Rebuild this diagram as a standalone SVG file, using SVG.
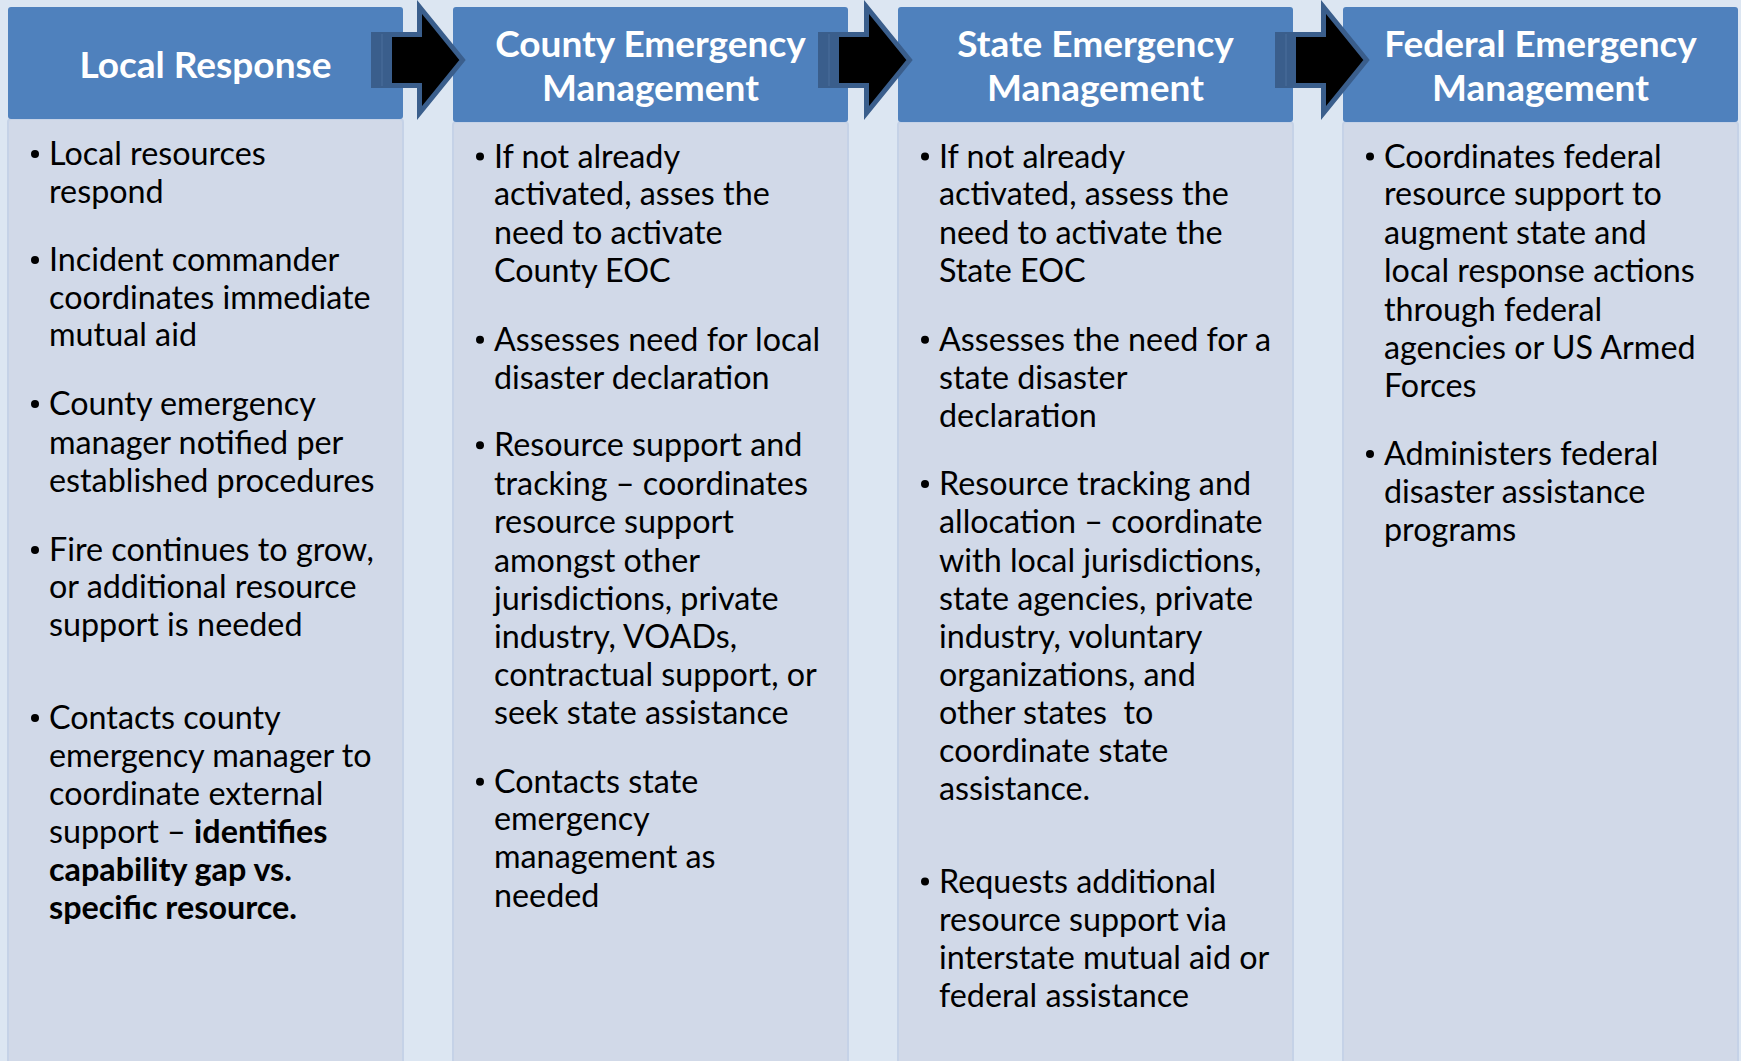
<svg xmlns="http://www.w3.org/2000/svg" xmlns:xlink="http://www.w3.org/1999/xlink" width="1741" height="1061" viewBox="0 0 1741 1061">
  <style>
    .bg { fill: #dce6f2; }
    .head { fill: #4f81bd; }
    .body { fill: #d1d9e8; stroke: #c5d2e7; stroke-width: 2; }
    .htxt { font-family: Lato, "Liberation Sans", sans-serif; font-weight: bold; font-size: 37px; fill: #ffffff; text-anchor: middle; }
    .btxt { font-family: Lato, "Liberation Sans", sans-serif; font-size: 32.3px; fill: #000000; }
    .b { font-weight: bold; }
    .dot { fill: #000000; }
  </style>
  <defs>
    <!-- process arrow: dark tail block plus black block arrow with blue outline -->
    <g id="arrow">
      <rect x="0" y="32" width="21" height="56" fill="#3a5e8c"/>
      <line x1="11" y1="34" x2="11" y2="86" stroke="#4a6e9c" stroke-width="1"/>
      <polygon points="18.5,34.5 48.5,34.5 48.5,7 91.5,60 48.5,113 48.5,85.5 18.5,85.5" fill="#000000" stroke="#3a5e8c" stroke-width="5" stroke-linejoin="miter"/>
    </g>
  </defs>

  <rect class="bg" x="0" y="0" width="1741" height="1061"/>

  <!-- Column 1 -->
  <g id="local-response">
    <rect class="body" x="8" y="119" width="395" height="960" rx="3"/>
    <rect class="head" x="8" y="7" width="395" height="112" rx="3"/>
    <text class="htxt" x="205.5" y="78">Local Response</text>
    <g class="btxt">
      <circle class="dot" cx="35" cy="154" r="4"/>
      <text x="49" y="165">Local resources</text>
      <text x="49" y="203">respond</text>
      <circle class="dot" cx="35" cy="260" r="4"/>
      <text x="49" y="271">Incident commander</text>
      <text x="49" y="309">coordinates immediate</text>
      <text x="49" y="346">mutual aid</text>
      <circle class="dot" cx="35" cy="404" r="4"/>
      <text x="49" y="415">County emergency</text>
      <text x="49" y="454">manager notified per</text>
      <text x="49" y="492">established procedures</text>
      <circle class="dot" cx="35" cy="550" r="4"/>
      <text x="49" y="561">Fire continues to grow,</text>
      <text x="49" y="598">or additional resource</text>
      <text x="49" y="636">support is needed</text>
      <circle class="dot" cx="35" cy="718" r="4"/>
      <text x="49" y="729">Contacts county</text>
      <text x="49" y="767">emergency manager to</text>
      <text x="49" y="805">coordinate external</text>
      <text x="49" y="843">support – <tspan class="b">identifies</tspan></text>
      <text x="49" y="881" class="b">capability gap vs.</text>
      <text x="49" y="919" class="b">specific resource.</text>
    </g>
  </g>

  <!-- Column 2 -->
  <g id="county-emergency-management">
    <rect class="body" x="453" y="122" width="395" height="960" rx="3"/>
    <rect class="head" x="453" y="7" width="395" height="115" rx="3"/>
    <text class="htxt" x="650.5" y="57">County Emergency</text>
    <text class="htxt" x="650.5" y="101">Management</text>
    <g class="btxt">
      <circle class="dot" cx="480" cy="156.6" r="4"/>
      <text x="494" y="167.6">If not already</text>
      <text x="494" y="205.3">activated, asses the</text>
      <text x="494" y="244.2">need to activate</text>
      <text x="494" y="282">County EOC</text>
      <circle class="dot" cx="480" cy="339.8" r="4"/>
      <text x="494" y="350.8">Assesses need for local</text>
      <text x="494" y="388.5">disaster declaration</text>
      <circle class="dot" cx="480" cy="445.2" r="4"/>
      <text x="494" y="456.2">Resource support and</text>
      <text x="494" y="495.1">tracking – coordinates</text>
      <text x="494" y="532.8">resource support</text>
      <text x="494" y="571.7">amongst other</text>
      <text x="494" y="609.5">jurisdictions, private</text>
      <text x="494" y="648.3">industry, VOADs,</text>
      <text x="494" y="686.1">contractual support, or</text>
      <text x="494" y="723.8">seek state assistance</text>
      <circle class="dot" cx="480" cy="781.7" r="4"/>
      <text x="494" y="792.7">Contacts state</text>
      <text x="494" y="830.4">emergency</text>
      <text x="494" y="868.2">management as</text>
      <text x="494" y="907">needed</text>
    </g>
  </g>

  <!-- Column 3 -->
  <g id="state-emergency-management">
    <rect class="body" x="898" y="122" width="395" height="960" rx="3"/>
    <rect class="head" x="898" y="7" width="395" height="115" rx="3"/>
    <text class="htxt" x="1095.5" y="57">State Emergency</text>
    <text class="htxt" x="1095.5" y="101">Management</text>
    <g class="btxt">
      <circle class="dot" cx="925" cy="156.6" r="4"/>
      <text x="939" y="167.6">If not already</text>
      <text x="939" y="205.3">activated, assess the</text>
      <text x="939" y="244.2">need to activate the</text>
      <text x="939" y="282">State EOC</text>
      <circle class="dot" cx="925" cy="339.8" r="4"/>
      <text x="939" y="350.8">Assesses the need for a</text>
      <text x="939" y="388.5">state disaster</text>
      <text x="939" y="427.4">declaration</text>
      <circle class="dot" cx="925" cy="484.1" r="4"/>
      <text x="939" y="495.1">Resource tracking and</text>
      <text x="939" y="532.8">allocation – coordinate</text>
      <text x="939" y="571.7">with local jurisdictions,</text>
      <text x="939" y="609.5">state agencies, private</text>
      <text x="939" y="648.3">industry, voluntary</text>
      <text x="939" y="686.1">organizations, and</text>
      <text x="939" y="723.8" xml:space="preserve">other states  to</text>
      <text x="939" y="761.6">coordinate state</text>
      <text x="939" y="800.4">assistance.</text>
      <circle class="dot" cx="925" cy="881.6" r="4"/>
      <text x="939" y="892.6">Requests additional</text>
      <text x="939" y="931.4">resource support via</text>
      <text x="939" y="969.2">interstate mutual aid or</text>
      <text x="939" y="1007">federal assistance</text>
    </g>
  </g>

  <!-- Column 4 -->
  <g id="federal-emergency-management">
    <rect class="body" x="1343" y="122" width="395" height="960" rx="3"/>
    <rect class="head" x="1343" y="7" width="395" height="115" rx="3"/>
    <text class="htxt" x="1540.5" y="57">Federal Emergency</text>
    <text class="htxt" x="1540.5" y="101">Management</text>
    <g class="btxt">
      <circle class="dot" cx="1370" cy="156.6" r="4"/>
      <text x="1384" y="167.6">Coordinates federal</text>
      <text x="1384" y="205.3">resource support to</text>
      <text x="1384" y="244.2">augment state and</text>
      <text x="1384" y="282">local response actions</text>
      <text x="1384" y="320.8">through federal</text>
      <text x="1384" y="358.5">agencies or US Armed</text>
      <text x="1384" y="397.4">Forces</text>
      <circle class="dot" cx="1370" cy="454.1" r="4"/>
      <text x="1384" y="465.1">Administers federal</text>
      <text x="1384" y="502.9">disaster assistance</text>
      <text x="1384" y="540.6">programs</text>
    </g>
  </g>

  <!-- Arrows between stages -->
  <g id="connectors">
    <use xlink:href="#arrow" x="371" y="0"/>
    <use xlink:href="#arrow" x="818" y="0"/>
    <use xlink:href="#arrow" x="1275" y="0"/>
  </g>
</svg>
